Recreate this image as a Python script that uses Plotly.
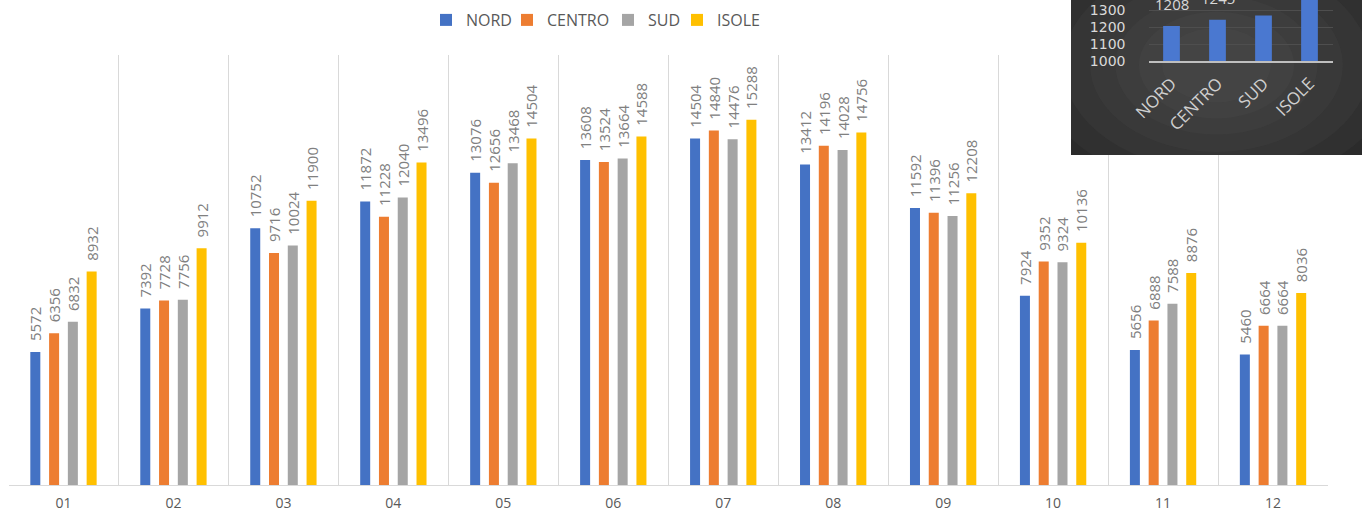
import plotly.graph_objects as go

# ---------------- data ----------------
months = ["01", "02", "03", "04", "05", "06", "07", "08", "09", "10", "11", "12"]
series_names = ["NORD", "CENTRO", "SUD", "ISOLE"]
nord = [5572, 7392, 10752, 11872, 13076, 13608, 14504, 13412, 11592, 7924, 5656, 5460]
centro = [6356, 7728, 9716, 11228, 12656, 13524, 14840, 14196, 11396, 9352, 6888, 6664]
sud = [6832, 7756, 10024, 12040, 13468, 13664, 14476, 14028, 11256, 9324, 7588, 6664]
isole = [8932, 9912, 11900, 13496, 14504, 14588, 15288, 14756, 12208, 10136, 8876, 8036]

inset_categories = ["NORD", "CENTRO", "SUD", "ISOLE"]
inset_values = [1208, 1245, 1271, 1426]
inset_ticks = [1000, 1100, 1200, 1300]

colors = ["#4472C4", "#ED7D31", "#A5A5A5", "#FFC000"]
W, H = 1362, 511
FONT = "Open Sans, Noto Sans, Liberation Sans, sans-serif"

px = lambda p: p / W
py = lambda p: (H - p) / H

# legend text start positions (pixels) for the four separate legend boxes
legend_text_x = [466, 547, 648, 717]
legend_ids = ["legend", "legend2", "legend3", "legend4"]

fig = go.Figure()

for name, vals, col, lid in zip(series_names, [nord, centro, sud, isole], colors, legend_ids):
    fig.add_trace(go.Bar(
        name=name, x=months, y=vals, legend=lid,
        marker=dict(color=col, line=dict(width=0)),
        texttemplate="\u00a0\u00a0%{y:.0f}",
        textposition="outside", textangle=-90, constraintext="none",
        textfont=dict(family=FONT, size=15, color="#808080"),
        cliponaxis=False,
        xaxis="x", yaxis="y",
    ))

# background subplot for the dark inset panel (drawn above the main chart)
fig.add_trace(go.Scatter(x=[None], y=[None], xaxis="x2", yaxis="y2",
                         showlegend=False, hoverinfo="skip"))

# inset (dark mini chart, top right)
fig.add_trace(go.Bar(
    x=inset_categories, y=inset_values, xaxis="x3", yaxis="y3",
    marker=dict(color="#4A78D0", line=dict(width=0)),
    showlegend=False, hoverinfo="skip",
))

shapes = [dict(type="rect", xref="x2", yref="y2", layer="below",
               x0=0, x1=1, y0=0, y1=1,
               fillcolor="#2B2B2B", line=dict(width=0))]
cx, cy = 0.5, 0.58
for s in [1.0, 0.85, 0.7, 0.56, 0.43, 0.3]:
    shapes.append(dict(type="circle", xref="x2", yref="y2", layer="below",
                       x0=cx - 0.62 * s, x1=cx + 0.62 * s, y0=cy - 0.8 * s, y1=cy + 0.8 * s,
                       fillcolor="#707070", opacity=0.08, line=dict(width=0)))

annotations = []
for c, v in zip(inset_categories, inset_values):
    annotations.append(dict(x=c, y=v, xref="x3", yref="y3", text=str(v), showarrow=False,
                            yanchor="bottom", yshift=10,
                            font=dict(family=FONT, size=15, color="#D9D9D9")))

legends = {}
for lid, tx in zip(legend_ids, legend_text_x):
    legends[lid] = dict(orientation="h", x=px(tx - 40), xanchor="left", y=py(20), yanchor="middle",
                        font=dict(family=FONT, size=16, color="#595959"),
                        bgcolor="rgba(0,0,0,0)", borderwidth=0)

fig.update_layout(
    width=W, height=H,
    margin=dict(l=0, r=0, t=0, b=0),
    paper_bgcolor="white", plot_bgcolor="rgba(0,0,0,0)",
    template="none",
    barmode="group", bargap=0.317, bargroupgap=0.467,
    font=dict(family=FONT, color="#595959"),
    xaxis=dict(domain=[px(8.5), px(1328)], type="category", tickson="boundaries",
               showgrid=True, gridcolor="#D9D9D9", gridwidth=1,
               showline=True, linecolor="#D9D9D9", linewidth=1,
               ticks="", tickfont=dict(family=FONT, size=14, color="#595959"),
               ticklabelstandoff=5, ticklabeloverflow="allow", automargin=False, anchor="y",
               range=[-0.5, 11.5]),
    yaxis=dict(domain=[py(485), py(55)], range=[0, 18000], showgrid=False,
               showticklabels=False, zeroline=False, showline=False, ticks="",
               automargin=False),
    xaxis2=dict(domain=[px(1071), 1.0], anchor="y2", range=[0, 1], visible=False,
                fixedrange=True),
    yaxis2=dict(domain=[py(155), 1.0], anchor="x2", range=[0, 1], visible=False,
                fixedrange=True),
    xaxis3=dict(domain=[px(1148.5), px(1332.5)], anchor="y3", type="category", showgrid=False,
                showline=True, linecolor="#BFBFBF", linewidth=2, ticks="",
                tickangle=-45, tickfont=dict(family=FONT, size=17, color="#D0D0D0"),
                automargin=False, ticklabelstandoff=4, ticklabeloverflow="allow"),
    yaxis3=dict(domain=[py(61), 1.0], anchor="x3", range=[1000, 1363], tickvals=inset_ticks,
                showgrid=True, gridcolor="#4E4E4E", zeroline=False, showline=False,
                ticks="", tickfont=dict(family="DejaVu Sans, sans-serif", size=14, color="#D9D9D9"),
                automargin=False, ticklabelstandoff=22, ticklabeloverflow="allow"),
    shapes=shapes,
    annotations=annotations,
    **legends,
)

fig.write_html("out.html", config={"displayModeBar": False},
               post_script="document.body.style.margin='0';document.body.style.overflow='hidden';")
